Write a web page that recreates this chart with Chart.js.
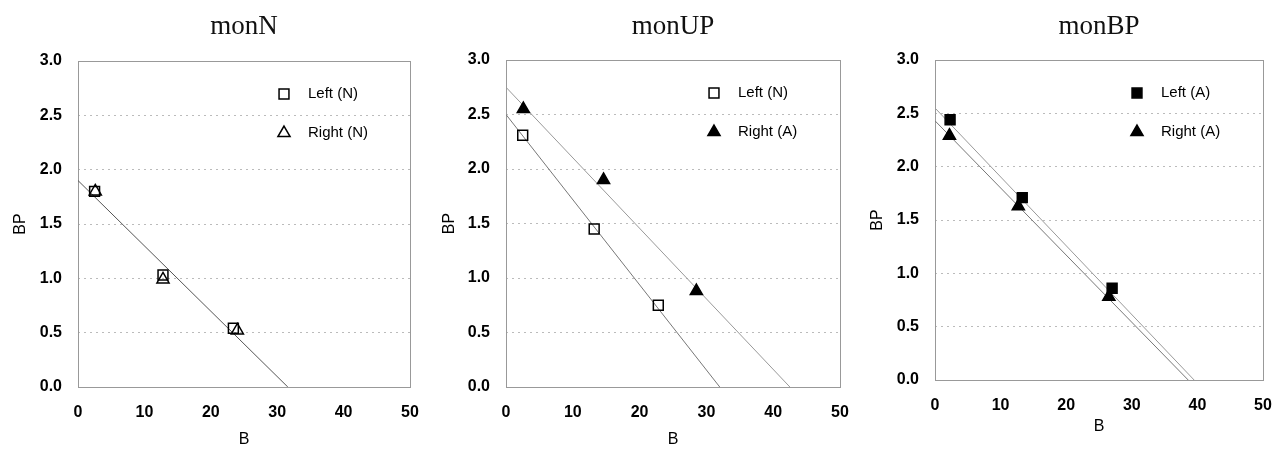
<!DOCTYPE html>
<html>
<head>
<meta charset="utf-8">
<script src="https://cdn.jsdelivr.net/npm/chart.js@4.4.1/dist/chart.umd.min.js"></script>
<style>
  body { margin: 0; background: #fff; }
  #wrap { position: relative; width: 1274px; height: 449px; overflow: hidden; }
  .panel { position: absolute; top: 0; }
  .ttl {
    position: absolute; top: 8px; text-align: center;
    font-family: "Liberation Serif", "Times New Roman", serif;
    font-size: 27px; line-height: 34px; color: #111;
  }
</style>
</head>
<body>
<div id="wrap">
  <div class="panel" style="left:0px"><div class="ttl" style="left:78px;width:332px">monN</div><canvas id="c1" width="425" height="449"></canvas></div>
  <div class="panel" style="left:425px"><div class="ttl" style="left:81px;width:334px">monUP</div><canvas id="c2" width="425" height="449"></canvas></div>
  <div class="panel" style="left:850px"><div class="ttl" style="left:85px;width:328px">monBP</div><canvas id="c3" width="424" height="436"></canvas></div>
</div>
<script>
// values
const xTicks = [0, 10, 20, 30, 40, 50];
const yTicks = [0, 0.5, 1, 1.5, 2, 2.5, 3];

// monN
const monNLeftX = [2.5, 12.8, 23.4];
const monNLeftY = [1.80, 1.03, 0.54];
const monNRightX = [2.6, 12.8, 24.0];
const monNRightY = [1.80, 0.99, 0.52];
const monNFitX = [0, 31.6];
const monNFitY = [1.90, 0];

// monUP
const monUPLeftX = [2.5, 13.2, 22.8];
const monUPLeftY = [2.31, 1.45, 0.75];
const monUPRightX = [2.6, 14.6, 28.5];
const monUPRightY = [2.55, 1.90, 0.88];
const monUPLeftFitX = [0, 32.0];
const monUPLeftFitY = [2.50, 0];
const monUPRightFitX = [0, 42.5];
const monUPRightFitY = [2.75, 0];

// monBP
const monBPLeftX = [2.3, 13.3, 27.0];
const monBPLeftY = [2.44, 1.71, 0.86];
const monBPRightX = [2.2, 12.7, 26.5];
const monBPRightY = [2.29, 1.63, 0.78];
const monBPLeftFitX = [0, 39.5];
const monBPLeftFitY = [2.55, 0];
const monBPRightFitX = [0, 38.6];
const monBPRightFitY = [2.43, 0];

const pts = (xs, ys) => xs.map((x, i) => ({ x: x, y: ys[i] }));

const markers = (label, xs, ys, style, filled) => ({
  label: label,
  data: pts(xs, ys),
  pointStyle: style,
  pointRadius: 7,
  pointHoverRadius: 7,
  borderWidth: 1.5,
  borderColor: '#000',
  backgroundColor: filled ? '#000' : 'transparent',
  showLine: false
});

const fitLine = (xs, ys, color) => ({
  label: '',
  data: pts(xs, ys),
  showLine: true,
  pointRadius: 0,
  borderColor: color,
  borderWidth: 1,
  fill: false
});

// box around the plot
const frame = {
  id: 'frame',
  beforeDatasetsDraw(chart) {
    const { ctx, chartArea: a } = chart;
    ctx.save();
    ctx.strokeStyle = '#999';
    ctx.lineWidth = 1;
    ctx.strokeRect(a.left + 0.5, a.top + 0.5, a.right - a.left, a.bottom - a.top);
    ctx.restore();
  }
};

// legend drawn inside the plot, top right
const insideLegend = {
  id: 'insideLegend',
  afterDatasetsDraw(chart) {
    const { ctx, chartArea: a } = chart;
    const items = chart.data.datasets.filter(d => d.label);
    ctx.save();
    items.forEach((ds, i) => {
      const y = a.top + 33 + i * 39;
      const x = a.right - 126;
      ctx.fillStyle = ds.backgroundColor;
      ctx.strokeStyle = ds.borderColor;
      ctx.lineWidth = ds.borderWidth;
      Chart.helpers.drawPoint(ctx, { pointStyle: ds.pointStyle, radius: ds.pointRadius, borderWidth: ds.borderWidth, rotation: 0 }, x, y);
      ctx.fillStyle = '#000';
      ctx.font = '15px "Liberation Sans", Arial, sans-serif';
      ctx.textBaseline = 'middle';
      ctx.textAlign = 'left';
      ctx.fillText(ds.label, a.right - 102, y);
    });
    ctx.restore();
  }
};

const tickFont = { family: '"Liberation Sans", Arial, sans-serif', size: 16, weight: 'bold' };
const titleFont = { family: '"Liberation Sans", Arial, sans-serif', size: 16 };

const makeChart = (id, datasets, box) => {
  const canvas = document.getElementById(id);
  return new Chart(canvas.getContext('2d'), {
    type: 'scatter',
    data: { datasets: datasets },
    options: {
      responsive: false,
      animation: false,
      devicePixelRatio: 1,
      layout: { padding: { left: 0, top: box.top, right: canvas.width - box.right, bottom: 0 } },
      plugins: { legend: { display: false }, tooltip: { enabled: false } },
      scales: {
        x: {
          type: 'linear',
          min: 0, max: 50,
          afterBuildTicks: s => { s.ticks = xTicks.map(v => ({ value: v })); },
          afterFit: s => {
            s.height = canvas.height - box.bottom;
            s.paddingLeft = 0;
            s.paddingRight = 0;
          },
          grid: { display: false },
          border: { display: false },
          ticks: { font: tickFont, color: '#000', padding: 8 },
          title: { display: true, text: 'B', font: titleFont, color: '#000', padding: { top: 0, bottom: box.xTitlePad } }
        },
        y: {
          type: 'linear',
          min: 0, max: 3,
          afterBuildTicks: s => { s.ticks = yTicks.map(v => ({ value: v })); },
          afterFit: s => {
            s.width = box.left;
            s.paddingTop = 0;
            s.paddingBottom = 0;
          },
          grid: { color: '#bbb', lineWidth: 1, drawTicks: false },
          border: { display: false, dash: [2, 4] },
          ticks: { font: tickFont, color: '#000', padding: 16, callback: v => v.toFixed(1) },
          title: { display: true, text: 'BP', font: titleFont, color: '#000', padding: { top: box.yTitlePad, bottom: 0 } }
        }
      }
    },
    plugins: [frame, insideLegend]
  });
};

makeChart('c1', [
  markers('Left (N)', monNLeftX, monNLeftY, 'rect', false),
  markers('Right (N)', monNRightX, monNRightY, 'triangle', false),
  fitLine(monNFitX, monNFitY, '#555')
], { left: 78, right: 410, top: 61, bottom: 387, yTitlePad: 11, xTitlePad: 0 });

makeChart('c2', [
  markers('Left (N)', monUPLeftX, monUPLeftY, 'rect', false),
  markers('Right (A)', monUPRightX, monUPRightY, 'triangle', true),
  fitLine(monUPLeftFitX, monUPLeftFitY, '#777'),
  fitLine(monUPRightFitX, monUPRightFitY, '#999')
], { left: 81, right: 415, top: 60, bottom: 387, yTitlePad: 15, xTitlePad: 0 });

makeChart('c3', [
  markers('Left (A)', monBPLeftX, monBPLeftY, 'rect', true),
  markers('Right (A)', monBPRightX, monBPRightY, 'triangle', true),
  fitLine(monBPLeftFitX, monBPLeftFitY, '#999'),
  fitLine(monBPRightFitX, monBPRightFitY, '#777')
], { left: 85, right: 413, top: 60, bottom: 380, yTitlePad: 18, xTitlePad: 0 });
</script>
</body>
</html>
